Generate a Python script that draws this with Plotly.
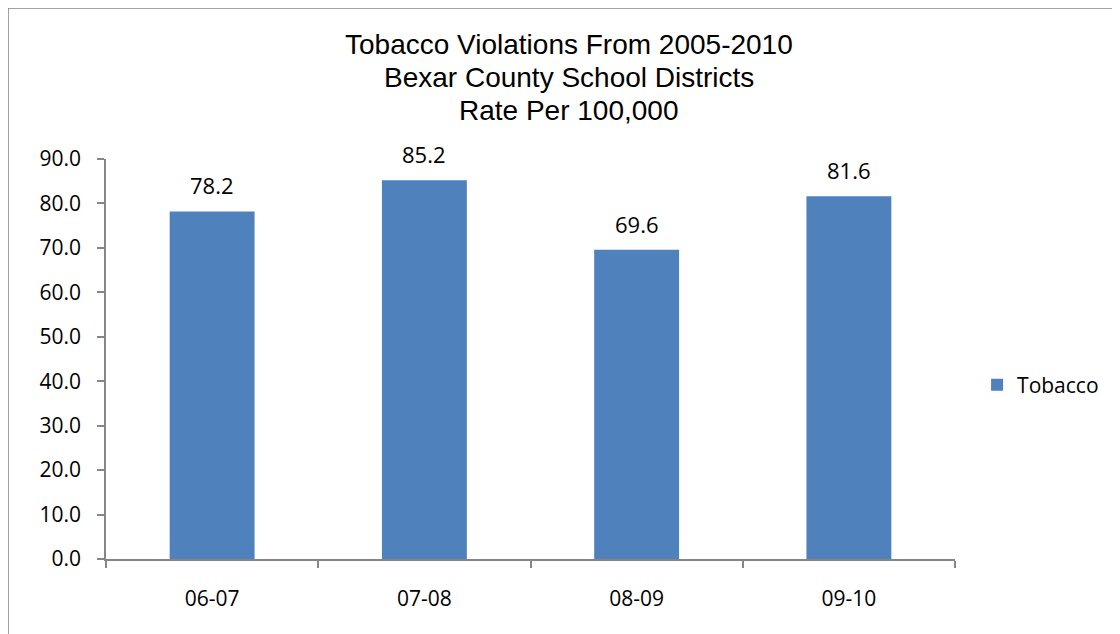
import plotly.graph_objects as go

categories = ["06-07", "07-08", "08-09", "09-10"]
values = [78.2, 85.2, 69.6, 81.6]
tick_vals = [0, 10, 20, 30, 40, 50, 60, 70, 80, 90]
tick_text = ["0.0", "10.0", "20.0", "30.0", "40.0", "50.0", "60.0", "70.0", "80.0", "90.0"]
series_name = "Tobacco"
title_lines = ["Tobacco Violations From 2005-2010", "Bexar County School Districts", "Rate Per 100,000"]

BAR = "#4F81BD"
AX = "#868686"
FONT = "Open Sans, Lato, sans-serif"

fig = go.Figure()
fig.add_trace(go.Bar(x=categories, y=values, name=series_name, marker=dict(color=BAR, line=dict(width=0)),
                     width=0.4, showlegend=True))

for c, v in zip(categories, values):
    fig.add_annotation(x=c, y=v, text=f"{v:.1f}", showarrow=False, yshift=26,
                       font=dict(family=FONT, size=22, color="#000"))

for i, line in enumerate(title_lines):
    fig.add_annotation(xref="paper", yref="paper", x=0.5453, y=1.286 - i * 0.0825, yanchor="middle",
                       text=line, showarrow=False, align="center",
                       font=dict(family="Liberation Sans, Arial, sans-serif", size=28, color="#000"))

fig.add_shape(type="rect", xref="paper", yref="paper", x0=-0.1154, y0=-0.5, x1=1.5, y1=1.3775,
              line=dict(color=AX, width=1.5), fillcolor="rgba(0,0,0,0)", layer="below")

fig.update_layout(
    width=1120, height=634,
    margin=dict(l=98, r=173, t=151, b=83, pad=0, autoexpand=False),
    paper_bgcolor="white", plot_bgcolor="white",
    font=dict(family=FONT, size=21, color="#000"),
    showlegend=True,
    legend=dict(x=1.026, y=0.435, xanchor="left", yanchor="middle", font=dict(family=FONT, size=21),
                itemwidth=30, bgcolor="rgba(0,0,0,0)"),
    xaxis=dict(type="category", showline=True, linecolor=AX, linewidth=1.5, ticks="outside", tickcolor=AX,
               ticklen=7, tickwidth=1.5, tickson="boundaries", showgrid=False, tickangle=0,
               ticklabelstandoff=20,
               tickfont=dict(family=FONT, size=21), range=[-0.5, 3.5], automargin=False),
    yaxis=dict(range=[0, 90], tickvals=tick_vals, ticktext=tick_text, showline=True, linecolor=AX,
               linewidth=1.5, ticks="outside", tickcolor=AX, ticklen=7, tickwidth=1.5, showgrid=False,
               ticklabelstandoff=12,
               zeroline=False, tickfont=dict(family=FONT, size=21), automargin=False),
)

fig.write_html("out.html")
